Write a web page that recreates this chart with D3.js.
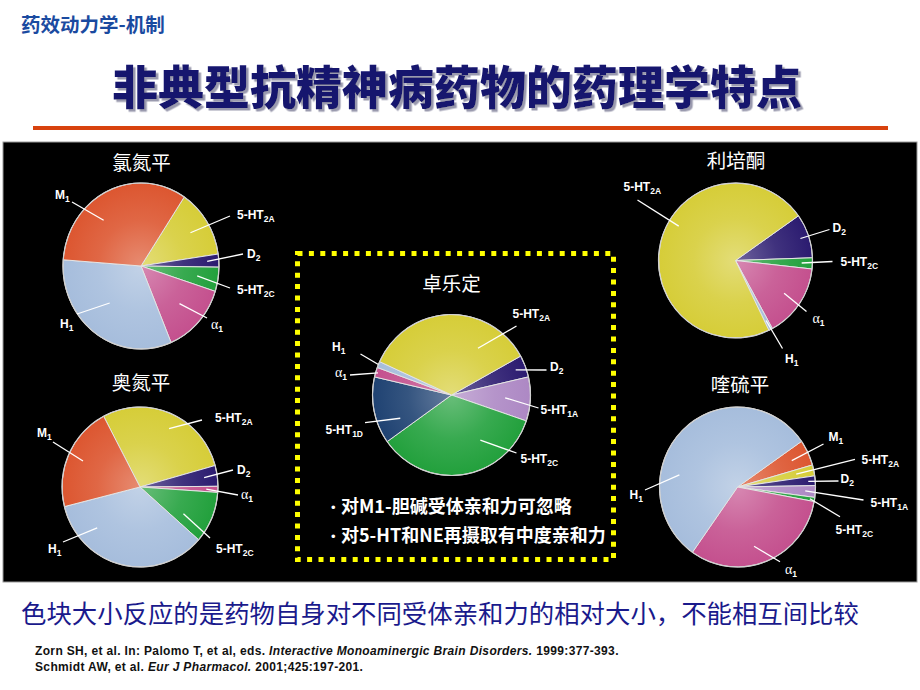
<!DOCTYPE html>
<html><head><meta charset="utf-8">
<script src="https://cdn.jsdelivr.net/npm/d3@7"></script>
<style>html,body{margin:0;padding:0;background:#fff}svg{display:block}</style>
</head><body>
<svg id="c" width="920" height="690"></svg>
<script>
// ---------------- DATA ----------------
const headerText = "药效动力学-机制";
const mainTitle = "非典型抗精神病药物的药理学特点";
const footerNote = "色块大小反应的是药物自身对不同受体亲和力的相对大小，不能相互间比较";
const reference1 = ["Zorn SH, et al. In: Palomo T, et al, eds. ", "Interactive Monoaminergic Brain Disorders.", " 1999:377-393."];
const reference2 = ["Schmidt AW, et al. ", "Eur J Pharmacol.", " 2001;425:197-201."];
const ziprasidoneNotes = ["对M1-胆碱受体亲和力可忽略", "对5-HT和NE再摄取有中度亲和力"];

const drugNames = ["氯氮平", "奥氮平", "卓乐定", "利培酮", "喹硫平"];

const clozapineReceptors = ["5-HT2A", "D2", "5-HT2C", "α1", "H1", "M1"];
const clozapineValues    = [48, 9.1, 17, 49.5, 117, 119.4];

const olanzapineReceptors = ["5-HT2A", "D2", "α1", "5-HT2C", "H1", "M1"];
const olanzapineValues    = [102.2, 15.1, 4.4, 37.4, 124.5, 76.4];

const ziprasidoneReceptors = ["D2", "5-HT1A", "5-HT2C", "5-HT1D", "α1", "H1", "5-HT2A"];
const ziprasidoneValues    = [15.9, 31.8, 125.8, 48.4, 7, 4.5, 126.6];

const risperidoneReceptors = ["D2", "5-HT2C", "α1", "H1", "5-HT2A"];
const risperidoneValues    = [33.2, 8.3, 55.1, 2.9, 260.5];

const quetiapineReceptors = ["M1", "5-HT2A", "D2", "5-HT1A", "5-HT2C", "α1", "H1"];
const quetiapineValues    = [18.8, 8, 7, 8.5, 3, 114.8, 199.9];

// ---------------- STYLE / LAYOUT ----------------
const receptorColors = {
  "M1": "#dc5630", "5-HT2A": "#d6cd38", "D2": "#2b1b70", "5-HT2C": "#22a03c",
  "α1": "#c4508e", "H1": "#a6bddc", "5-HT1A": "#ad88c4", "5-HT1D": "#1f4272"
};

// label layout: f = radius fraction of leader start, ang = optional leader angle (deg),
// l = leader end offset, t = text offset (relative to pie centre), a = anchor
const clozapineLabelLayout = [
  {r:"5-HT2A", f:.75, l:[89,-50], t:[96,-47]},
  {r:"D2", f:.85, l:[102,-12], t:[106,-8]},
  {r:"5-HT2C", f:.73, l:[89,22], t:[96,28]},
  {r:"α1", f:.67, l:[66,52], t:[70,63]},
  {r:"H1", f:.6, ang:222, l:[-64,48], t:[-81,62]},
  {r:"M1", f:.73, ang:319, l:[-69,-64], t:[-86,-67]}
];
const olanzapineLabelLayout = [
  {r:"5-HT2A", f:.82, ang:27, l:[62,-67], t:[75,-65]},
  {r:"D2", f:.83, l:[93,-17], t:[97,-13]},
  {r:"α1", f:.85, l:[98,8], t:[101,12]},
  {r:"5-HT2C", f:.65, ang:121, l:[70,51], t:[76,66]},
  {r:"H1", f:.75, ang:227, l:[-77,55], t:[-92,66]},
  {r:"M1", f:.8, l:[-87,-45], t:[-103,-50]}
];
const ziprasidoneLabelLayout = [
  {r:"D2", f:.87, l:[95,-25], t:[98.5,-24]},
  {r:"5-HT1A", f:.68, l:[87,13], t:[89,18.5]},
  {r:"5-HT2C", f:.67, ang:147, l:[65,58], t:[69,67.5]},
  {r:"5-HT1D", f:.71, ang:246, l:[-86.5,27.7], t:[-88.5,38.5], a:"end"},
  {r:"α1", f:.97, l:[-101.5,-20], t:[-104.5,-18.5], a:"end"},
  {r:"H1", f:1.0, l:[-91,-41], t:[-106,-44.5], a:"end"},
  {r:"5-HT2A", f:.67, ang:30, l:[65,-69], t:[61,-77]}
];
const risperidoneLabelLayout = [
  {r:"D2", f:.89, l:[94,-31], t:[97,-29]},
  {r:"5-HT2C", f:.86, l:[97,1], t:[105,5.5]},
  {r:"α1", f:.76, l:[71,51], t:[77,62]},
  {r:"H1", f:.87, l:[47,88], t:[49.5,102]},
  {r:"5-HT2A", f:.86, ang:301, l:[-98,-60.5], t:[-112,-69.5]}
];
const quetiapineLabelLayout = [
  {r:"M1", f:.77, l:[86,-43], t:[91,-46]},
  {r:"5-HT2A", f:.77, l:[117.5,-27.7], t:[124,-23]},
  {r:"D2", f:.91, l:[101,-6], t:[103,-4.5]},
  {r:"5-HT1A", f:.87, l:[126,13], t:[133,20]},
  {r:"5-HT2C", f:.94, l:[102.5,29.7], t:[98,46.5]},
  {r:"α1", f:.77, ang:164, l:[42.5,74.7], t:[47.5,87]},
  {r:"H1", f:.76, ang:281.5, l:[-92.5,3], t:[-94.5,12], a:"end"}
];

const pies = [
  {title:drugNames[0], rec:clozapineReceptors, val:clozapineValues, lab:clozapineLabelLayout, cx:141, cy:266, rx:78, ry:83, start:33.7, ty:-96, tx:0.5},
  {title:drugNames[1], rec:olanzapineReceptors, val:olanzapineValues, lab:olanzapineLabelLayout, cx:140, cy:487, rx:78, ry:80, start:-27.8, ty:-97, tx:1},
  {title:drugNames[2], rec:ziprasidoneReceptors, val:ziprasidoneValues, lab:ziprasidoneLabelLayout, cx:451.5, cy:395, rx:79, ry:80.5, start:61.1, ty:-104, tx:0},
  {title:drugNames[3], rec:risperidoneReceptors, val:risperidoneValues, lab:risperidoneLabelLayout, cx:735.5, cy:260.5, rx:77, ry:77.5, start:54.8, ty:-92.5, tx:0.5},
  {title:drugNames[4], rec:quetiapineReceptors, val:quetiapineValues, lab:quetiapineLabelLayout, cx:737.5, cy:487, rx:78, ry:80, start:55.2, ty:-95, tx:2.5}
];

// ---------------- DRAW ----------------
const svg = d3.select("#c");
const defs = svg.append("defs");
const CJK = "'Noto Sans CJK SC','Noto Sans CJK TC',sans-serif";
const LAT = "'Liberation Sans',Arial,sans-serif";

const shadow = defs.append("filter").attr("id","tshadow").attr("x","-5%").attr("y","-20%").attr("width","110%").attr("height","150%");
shadow.append("feDropShadow").attr("dx",2.5).attr("dy",2.5).attr("stdDeviation",0.3)
  .attr("flood-color","#9a9aae").attr("flood-opacity",1);

svg.append("rect").attr("width",920).attr("height",690).attr("fill","#fff");

// header
svg.append("text").attr("x",21).attr("y",32).attr("font-family",CJK).attr("font-weight","bold")
  .attr("font-size",19.5).attr("fill","#1a4aa0").text(headerText);

// main title with shadow
svg.append("text").attr("x",457).attr("y",104).attr("text-anchor","middle")
  .attr("font-family",CJK).attr("font-weight",900).attr("font-size",46).attr("fill","#15156e")
  .attr("filter","url(#tshadow)").text(mainTitle);
svg.append("line").attr("x1",33).attr("x2",888).attr("y1",128).attr("y2",128)
  .attr("stroke","#d8420e").attr("stroke-width",4);

// black panel
svg.append("rect").attr("x",3).attr("y",142).attr("width",914).attr("height",440)
  .attr("fill","#000").attr("stroke","#9a9a9a").attr("stroke-width",1);

// dotted yellow frame
svg.append("rect").attr("x",297.5).attr("y",253.5).attr("width",316).attr("height",306)
  .attr("fill","none").attr("stroke","#ffff00").attr("stroke-width",5).attr("stroke-dasharray","5,6.4");

function labelText(g, name, x, y, anchor){
  const t = g.append("text").attr("x",x).attr("y",y).attr("text-anchor",anchor||"start")
    .attr("fill","#fff").attr("font-family",LAT).attr("font-weight","bold").attr("font-size",12);
  let main, sub;
  if (name.startsWith("5-HT")) { main = "5-HT"; sub = name.slice(4); }
  else if (name.startsWith("α")) { main = "α"; sub = name.slice(1); }
  else { main = name[0]; sub = name.slice(1); }
  const m = t.append("tspan").text(main);
  if (main === "α") m.attr("font-family","'Liberation Serif','DejaVu Serif',serif").attr("font-weight","normal").attr("font-size",14);
  t.append("tspan").attr("dy",3).attr("font-size",8.5).text(sub);
}

pies.forEach((p, i) => {
  const data = p.rec.map((r, k) => ({r, v: p.val[k]}));
  const a0 = p.start * Math.PI / 180;
  const arcs = d3.pie().sort(null).value(d => d.v).startAngle(a0).endAngle(a0 + 2 * Math.PI)(data);
  const arc = d3.arc().innerRadius(0).outerRadius(p.rx);
  const g = svg.append("g").attr("transform", `translate(${p.cx},${p.cy})`);
  const pg = g.append("g").attr("transform", `scale(1,${p.ry / p.rx})`);

  data.forEach((d, k) => {
    const base = receptorColors[d.r];
    const gr = defs.append("radialGradient").attr("id", `g${i}_${k}`)
      .attr("gradientUnits","userSpaceOnUse").attr("cx",0).attr("cy",0).attr("r",p.rx);
    gr.append("stop").attr("offset",0).attr("stop-color", d3.interpolateRgb(base,"#fff")(0.32));
    gr.append("stop").attr("offset",0.55).attr("stop-color", d3.interpolateRgb(base,"#fff")(0.1));
    gr.append("stop").attr("offset",1).attr("stop-color", base);
  });

  pg.selectAll("path").data(arcs).join("path")
    .attr("d", arc)
    .attr("fill", (d, k) => `url(#g${i}_${k})`)
    .attr("stroke", "#e4e4e4").attr("stroke-width", 1).attr("vector-effect","non-scaling-stroke");
  pg.append("circle").attr("r", p.rx).attr("fill","none").attr("stroke","#d0d0d0")
    .attr("stroke-width",1.2).attr("vector-effect","non-scaling-stroke");

  // title
  g.append("text").attr("x", p.tx).attr("y", p.ty).attr("text-anchor","middle")
    .attr("font-family", CJK).attr("font-size", 19.5).attr("fill","#fff").text(p.title);

  // labels
  p.lab.forEach(L => {
    const a = arcs.find(d => d.data.r === L.r);
    const ang = L.ang !== undefined ? L.ang * Math.PI / 180 : (a.startAngle + a.endAngle) / 2;
    const x0 = L.f * p.rx * Math.sin(ang), y0 = -L.f * p.ry * Math.cos(ang);
    g.append("line").attr("x1", x0).attr("y1", y0).attr("x2", L.l[0]).attr("y2", L.l[1])
      .attr("stroke", "#fff").attr("stroke-width", 1.3);
    labelText(g, L.r, L.t[0], L.t[1], L.a);
  });
});

// notes in the frame
ziprasidoneNotes.forEach((s, k) => {
  const y = 513 + k * 29;
  svg.append("text").attr("x",331).attr("y",y-1).attr("font-family",LAT).attr("font-size",13)
    .attr("fill","#fff").text("•");
  svg.append("text").attr("x",341).attr("y",y).attr("font-family",CJK).attr("font-weight","bold")
    .attr("font-size",18).attr("fill","#fff").text(s);
});

// footer
svg.append("text").attr("x",21).attr("y",623).attr("font-family",CJK).attr("font-size",25.4)
  .attr("fill","#1a1a8c").text(footerNote);

[[reference1,655],[reference2,671]].forEach(([parts,y]) => {
  const t = svg.append("text").attr("x",35).attr("y",y).attr("font-family",LAT)
    .attr("font-weight","bold").attr("font-size",12).attr("letter-spacing",0.35).attr("fill","#111");
  parts.forEach((s,k) => {
    const ts = t.append("tspan").text(s);
    if (k === 1) ts.attr("font-style","italic");
  });
});
</script>
</body></html>
